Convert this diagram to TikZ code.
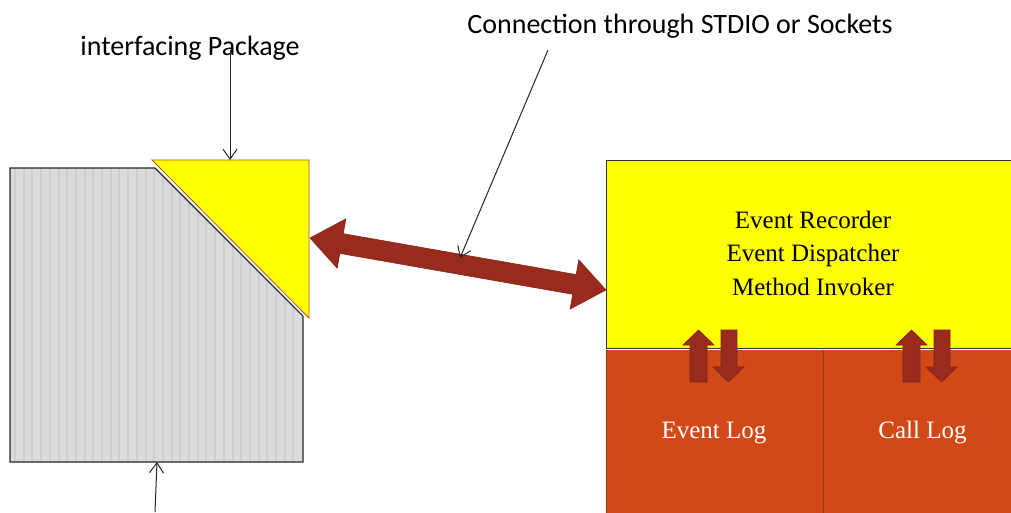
\documentclass[tikz,border=0pt]{standalone}
\usepackage{fontspec}
\newfontfamily\labelfont{Carlito}
\newfontfamily\boxfont{Liberation Serif}
\usetikzlibrary{arrows.meta}
\definecolor{boxyellow}{RGB}{255,255,0}
\definecolor{logorange}{RGB}{209,73,23}
\definecolor{arrowred}{RGB}{153,43,30}
\definecolor{pkggray}{RGB}{219,219,219}
\definecolor{stripegray}{RGB}{206,206,206}
\definecolor{triborder}{RGB}{190,80,30}
\tikzset{
  labeltext/.style={font=\labelfont\fontsize{28}{33}\selectfont, text=black, inner sep=0pt, anchor=base},
  boxtext/.style={font=\boxfont\fontsize{25}{33.5}\selectfont, align=center, inner sep=0pt},
  thinarrow/.style={draw=black!85, line width=1pt, -{Straight Barb[length=10pt,width=14pt]}},
  blockarrow/.style={fill=arrowred, draw=arrowred!85!black, line width=0.6pt},
}
\begin{document}
\begin{tikzpicture}[x=1pt,y=-1pt]
\useasboundingbox (0,0) rectangle (1011,512);
% gray package shape
\begin{scope}
  \clip (10,168) -- (155,168) -- (303,316) -- (303,462) -- (10,462) -- cycle;
  \fill[pkggray] (0,150) rectangle (320,480);
  \foreach \x in {15,23.7,...,302} \draw[stripegray, line width=2pt] (\x,150) -- (\x,480);
\end{scope}
\draw[black!85, line width=1.2pt] (10,168) -- (155,168) -- (303,316) -- (303,462) -- (10,462) -- cycle;
\coordinate (pkgbottom) at (157,462);
% interfacing triangle
\draw[white, line width=4pt] (152,160) -- (309,318);
\draw[fill=boxyellow, draw=triborder, line width=0.8pt] (152,160) -- (309,160) -- (309,318) -- cycle;
\coordinate (tritop) at (230,160);
% right boxes
\draw[fill=boxyellow, draw=black!80, line width=1pt] (606,160) rectangle (1016,348);
\fill[logorange] (606,350) rectangle (1016,516);
\draw[logorange!75!black, line width=0.6pt] (606,350) -- (606,516);
\draw[logorange!75!black, line width=0.8pt] (823,350) -- (823,516);
\node[boxtext] (rec) at (813,253) {Event Recorder\\Event Dispatcher\\Method Invoker};
\node[boxtext, text=white, anchor=base] (elog) at (714,438) {Event Log};
\node[boxtext, text=white, anchor=base] (clog) at (922.5,438) {Call Log};
% small up/down arrows
\foreach \d in {0,213} {
  \draw[blockarrow] (690+\d,382) -- (690+\d,345) -- (683+\d,345) -- (698.5+\d,330) -- (714+\d,345) -- (707+\d,345) -- (707+\d,382) -- cycle;
  \draw[blockarrow] (721+\d,330) -- (721+\d,367) -- (713+\d,367) -- (728.5+\d,382) -- (744+\d,367) -- (737+\d,367) -- (737+\d,330) -- cycle;
}
% big double arrow
\begin{scope}[shift={(310,238)}, rotate=-9.96]
  \draw[blockarrow] (0,0) -- (32,25) -- (32,10) -- (268.5,10) -- (268.5,25) -- (300.5,0) -- (268.5,-25) -- (268.5,-10) -- (32,-10) -- (32,-25) -- cycle;
\end{scope}
\coordinate (bigmid) at (460,258);
% labels
\node[labeltext] (conn) at (680,33) {Connection through STDIO or Sockets};
\node[labeltext] (iface) at (190,55) {interfacing Package};
\coordinate (connstart) at (548,50);
\coordinate (ifacestart) at (230,50);
\coordinate (bottomstart) at (155,512);
\draw[thinarrow] (connstart) -- (bigmid);
\draw[thinarrow] (ifacestart) -- (tritop);
\draw[thinarrow] (bottomstart) -- (pkgbottom);
\end{tikzpicture}
\end{document}
